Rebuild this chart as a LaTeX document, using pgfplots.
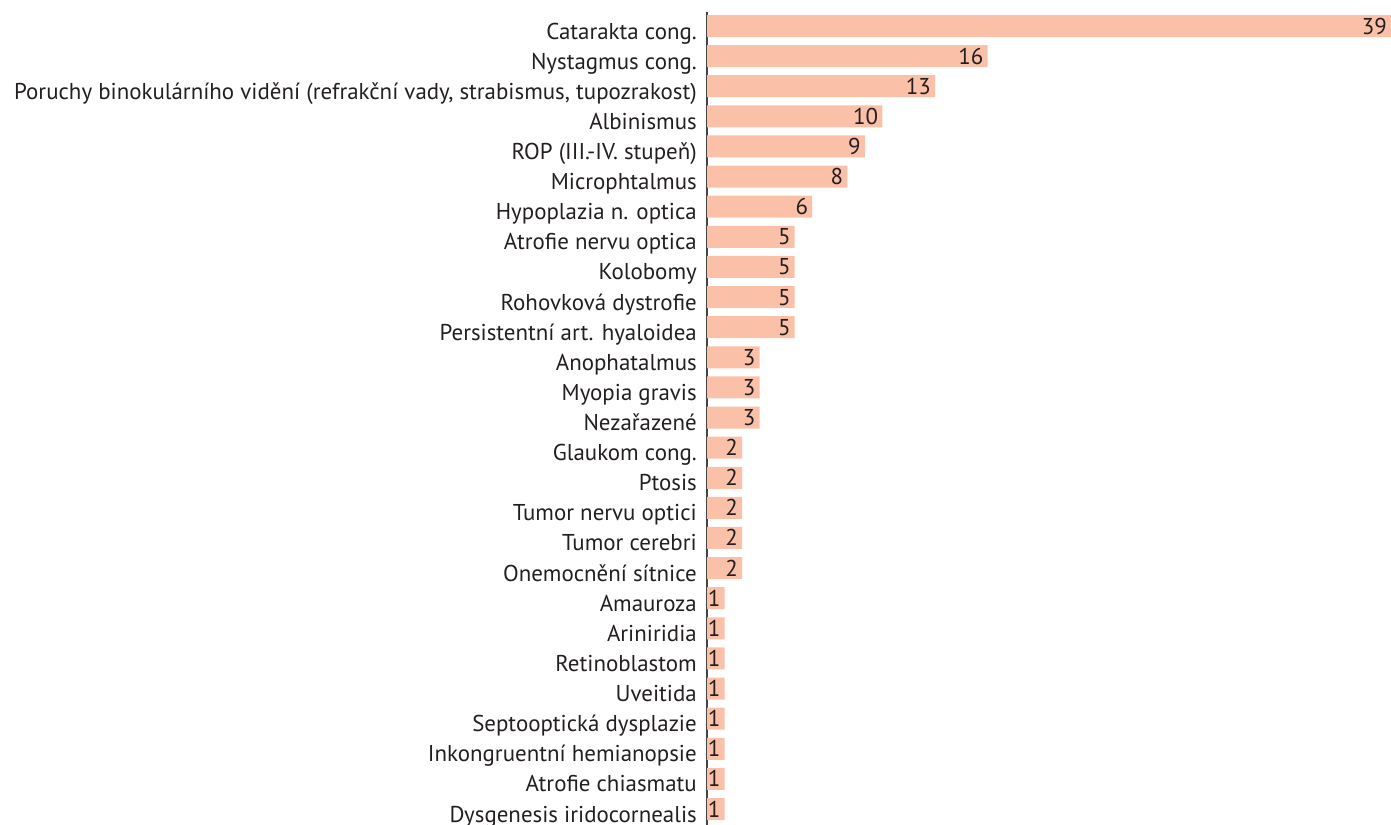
\documentclass[border=0pt]{standalone}
\usepackage{fontspec}
\setmainfont{PT Sans}
\usepackage{pgfplots}
\pgfplotsset{compat=1.18}
\definecolor{barfill}{HTML}{FBC0A8}
\definecolor{txt}{HTML}{231F20}
\definecolor{axisgray}{HTML}{444444}

\begin{document}
\begin{tikzpicture}
\path[use as bounding box] (0,0) rectangle (1391bp,825bp);
\begin{axis}[
    at={(707bp,0bp)}, anchor=south west,
    scale only axis,
    width=684bp, height=813bp,
    xmin=0, xmax=39,
    ymin=-0.465, ymax=26.53,
    y dir=reverse,
    axis x line=none,
    axis y line*=left,
    axis line style={axisgray, line width=1.2bp},
    xbar, bar width=22bp,
    ytick={0,...,26},
    major tick length=0pt,
    yticklabels={
        Catarakta cong.,
        Nystagmus cong.,
        {Poruchy binokulárního vidění (refrakční vady, strabismus, tupozrakost)},
        Albinismus,
        ROP (III.-IV. stupeň),
        Microphtalmus,
        Hypoplazia n. optica,
        Atrofie nervu optica,
        Kolobomy,
        Rohovková dystrofie,
        Persistentní art. hyaloidea,
        Anophatalmus,
        Myopia gravis,
        Nezařazené,
        Glaukom cong.,
        Ptosis,
        Tumor nervu optici,
        Tumor cerebri,
        Onemocnění sítnice\hspace{5bp},
        Amauroza,
        Ariniridia,
        Retinoblastom,
        Uveitida,
        Septooptická dysplazie,
        Inkongruentní hemianopsie\hspace{5bp},
        Atrofie chiasmatu,
        Dysgenesis iridocornealis
    },
    yticklabel style={font=\fontsize{23}{27}\selectfont, text=txt, inner sep=0pt, anchor=base east, xshift=-10bp, yshift=-13bp},
    nodes near coords={\pgfmathprintnumber[assume math mode=true]{\pgfplotspointmeta}},
    every node near coord/.append style={anchor=base east, inner sep=0pt, xshift=-4bp, yshift=-8bp, font=\fontsize{23}{27}\selectfont, text=txt},
]
\addplot[fill=barfill, draw=none] coordinates {
    (39,0) (16,1) (13,2) (10,3) (9,4) (8,5) (6,6) (5,7) (5,8) (5,9)
    (5,10) (3,11) (3,12) (3,13) (2,14) (2,15) (2,16) (2,17) (2,18)
    (1,19) (1,20) (1,21) (1,22) (1,23) (1,24) (1,25) (1,26)
};
\end{axis}
\end{tikzpicture}
\end{document}
